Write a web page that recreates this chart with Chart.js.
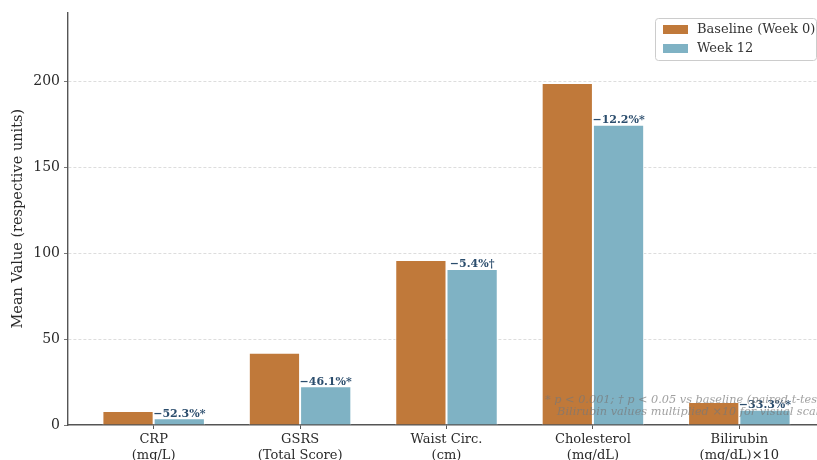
<!DOCTYPE html>
<html>
<head>
<meta charset="utf-8">
<script src="https://cdn.jsdelivr.net/npm/chart.js@4"></script>
<style>
    html, body { margin: 0; padding: 0; background: #fff; overflow: hidden; }
    #wrap { width: 830px; height: 460px; position: relative; }
</style>
</head>
<body>
<div id="wrap"><canvas id="markerChart"></canvas></div>
<script>
const categories = [
    ["CRP", "(mg/L)"],
    ["GSRS", "(Total Score)"],
    ["Waist Circ.", "(cm)"],
    ["Cholesterol", "(mg/dL)"],
    ["Bilirubin", "(mg/dL)\u00d710"],
];
const baselineValues = [8.2, 42.0, 96.0, 199.0, 13.4];
const week12Values = [3.9, 22.6, 90.8, 174.7, 8.9];
const changeLabels = ["\u221252.3%*", "\u221246.1%*", "\u22125.4%\u2020", "\u221212.2%*", "\u221233.3%*"];
const yTicks = [0, 50, 100, 150, 200];
const footnote = [
    "* p < 0.001; \u2020 p < 0.05 vs baseline (paired t-test)",
    "Bilirubin values multiplied \u00d710 for visual scale",
];

const serif = "'DejaVu Serif', 'Liberation Serif', serif";

// percent-change labels, footnote and legend drawn on top of the bars
const overlayPlugin = {
    id: "overlay",
    afterDatasetsDraw(chart) {
        const ctx = chart.ctx;
        const meta = chart.getDatasetMeta(1);
        ctx.save();
        ctx.font = "bold 11px " + serif;
        ctx.fillStyle = "#2b4d6d";
        ctx.textAlign = "center";
        ctx.textBaseline = "bottom";
        meta.data.forEach((bar, i) => {
            ctx.fillText(changeLabels[i], bar.x, bar.y + 1);
        });

        ctx.font = "italic 11.3px " + serif;
        ctx.fillStyle = "rgba(120,120,120,0.7)";
        ctx.textAlign = "right";
        ctx.textBaseline = "middle";
        ctx.fillText(footnote[0], 826, 400);
        ctx.fillText(footnote[1], 826, 412);
        ctx.restore();
    },
    afterDraw(chart) {
        const ctx = chart.ctx;
        const sets = chart.data.datasets;
        ctx.save();
        ctx.fillStyle = "rgba(255,255,255,0.85)";
        ctx.strokeStyle = "#cccccc";
        ctx.lineWidth = 1;
        ctx.beginPath();
        ctx.roundRect(655.5, 18.5, 161, 42, 3);
        ctx.fill();
        ctx.stroke();
        ctx.font = "13px " + serif;
        ctx.textBaseline = "middle";
        ctx.textAlign = "left";
        sets.forEach((ds, i) => {
            const cy = 29.5 + i * 19;
            ctx.fillStyle = ds.backgroundColor;
            ctx.fillRect(663, cy - 4.5, 25, 9);
            ctx.fillStyle = "#333333";
            ctx.fillText(ds.label, 697, cy);
        });
        ctx.restore();
    },
};

const ctx = document.getElementById("markerChart").getContext("2d");

new Chart(ctx, {
    type: "bar",
    data: {
        datasets: [
            {
                label: "Baseline (Week 0)",
                data: baselineValues.map((v, i) => ({ x: i, y: v })),
                backgroundColor: "#c0793a",
                borderColor: "#ffffff",
                borderWidth: 1,
            },
            {
                label: "Week 12",
                data: week12Values.map((v, i) => ({ x: i, y: v })),
                backgroundColor: "#7fb2c4",
                borderColor: "#ffffff",
                borderWidth: 1,
            },
        ],
    },
    options: {
        responsive: true,
        maintainAspectRatio: false,
        animation: false,
        categoryPercentage: 0.7,
        barPercentage: 1.0,
        layout: {
            padding: { top: 12, right: 5, left: 0, bottom: 0 },
        },
        plugins: {
            legend: { display: false },
            tooltip: { enabled: false },
        },
        scales: {
            x: {
                type: "linear",
                min: -0.585,
                max: 4.585,
                offset: false,
                afterBuildTicks: (scale) => {
                    scale.ticks = categories.map((c, i) => ({ value: i }));
                },
                afterFit: (scale) => {
                    scale.height = 35;
                },
                grid: {
                    offset: false,
                    drawOnChartArea: false,
                    drawTicks: true,
                    tickLength: 4,
                    tickColor: "#555555",
                },
                border: { color: "#555555", width: 1.4 },
                ticks: {
                    padding: 2,
                    color: "#2a2a2a",
                    font: { family: serif, size: 13, lineHeight: 1.25 },
                    maxRotation: 0,
                    autoSkip: false,
                    callback: (value, index) => categories[index],
                },
            },
            y: {
                min: 0,
                max: 240,
                afterBuildTicks: (scale) => {
                    scale.ticks = yTicks.map((v) => ({ value: v }));
                },
                afterFit: (scale) => {
                    scale.width = 68;
                },
                grid: {
                    color: (c) => (c.tick && c.tick.value === 0 ? "rgba(0,0,0,0)" : "rgba(0,0,0,0.17)"),
                    lineWidth: 0.8,
                    tickLength: 4,
                    tickColor: "#555555",
                    tickBorderDash: [],
                },
                border: { color: "#555555", width: 1.4, dash: [3, 2] },
                ticks: {
                    padding: 4,
                    color: "#2a2a2a",
                    font: { family: serif, size: 14 },
                },
                title: {
                    display: true,
                    text: "Mean Value (respective units)",
                    color: "#2a2a2a",
                    font: { family: serif, size: 14.5 },
                    padding: { top: 10, bottom: 0 },
                },
            },
        },
    },
    plugins: [overlayPlugin],
});
</script>
</body>
</html>
